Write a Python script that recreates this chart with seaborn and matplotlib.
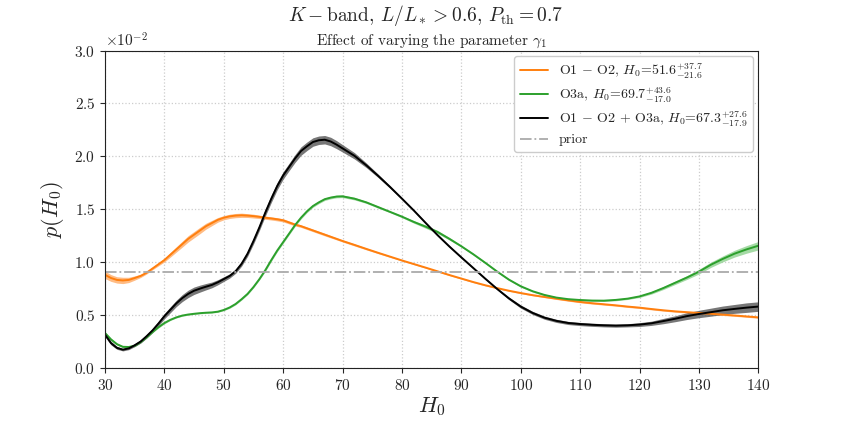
import numpy as np
import pandas as pd
import seaborn as sns
import matplotlib.pyplot as plt
from matplotlib.ticker import ScalarFormatter

sns.set_style("ticks")
plt.rcParams['font.family'] = 'serif'
plt.rcParams['font.serif'] = ['cmr10', 'DejaVu Serif']
plt.rcParams['mathtext.fontset'] = 'cm'
plt.rcParams['axes.formatter.use_mathtext'] = True
plt.rcParams['axes.unicode_minus'] = False

# H0 values where the curves were read: every 1 up to 70, every 2 after
h0 = list(range(30, 71)) + list(range(72, 141, 2))

# p(H0) in units of 1e-2
p_o1o2 = [0.88, 0.85, 0.832, 0.827, 0.832, 0.85, 0.87, 0.90, 0.94, 0.98,
          1.02, 1.07, 1.12, 1.17, 1.22, 1.26, 1.30, 1.34, 1.37, 1.40,
          1.42, 1.433, 1.44, 1.443, 1.44, 1.435, 1.428, 1.42, 1.413, 1.405,
          1.395, 1.375, 1.355, 1.34, 1.32, 1.30, 1.28, 1.26, 1.24, 1.22, 1.20,
          1.163, 1.125, 1.088, 1.052, 1.016, 0.982, 0.948, 0.913, 0.878, 0.845,
          0.812, 0.782, 0.755, 0.73, 0.708, 0.688, 0.671, 0.655, 0.639, 0.624,
          0.612, 0.602, 0.592, 0.58, 0.57, 0.557, 0.545, 0.535, 0.527, 0.52,
          0.512, 0.504, 0.496, 0.487, 0.478]
p_o3a = [0.33, 0.27, 0.225, 0.20, 0.198, 0.21, 0.245, 0.29, 0.34, 0.385,
         0.425, 0.455, 0.478, 0.495, 0.505, 0.512, 0.518, 0.522, 0.525, 0.532,
         0.548, 0.572, 0.605, 0.65, 0.70, 0.765, 0.84, 0.925, 1.02, 1.11,
         1.19, 1.27, 1.35, 1.42, 1.48, 1.53, 1.565, 1.595, 1.61, 1.62, 1.622,
         1.60, 1.565, 1.52, 1.475, 1.43, 1.38, 1.335, 1.285, 1.22, 1.15,
         1.075, 0.995, 0.912, 0.835, 0.772, 0.725, 0.69, 0.665, 0.65, 0.642,
         0.637, 0.636, 0.643, 0.655, 0.676, 0.71, 0.755, 0.805, 0.855, 0.91,
         0.975, 1.03, 1.08, 1.12, 1.155]
p_comb = [0.315, 0.235, 0.19, 0.173, 0.185, 0.215, 0.25, 0.30, 0.355, 0.42,
          0.49, 0.55, 0.61, 0.66, 0.70, 0.73, 0.75, 0.768, 0.785, 0.81,
          0.84, 0.87, 0.915, 0.985, 1.08, 1.20, 1.33, 1.47, 1.60, 1.72,
          1.82, 1.90, 1.98, 2.05, 2.095, 2.135, 2.152, 2.157, 2.14, 2.11, 2.075,
          2.005, 1.915, 1.815, 1.71, 1.60, 1.488, 1.37, 1.255, 1.147, 1.045,
          0.945, 0.845, 0.748, 0.658, 0.58, 0.52, 0.475, 0.445, 0.425, 0.415,
          0.408, 0.403, 0.40, 0.403, 0.41, 0.422, 0.443, 0.465, 0.49, 0.51,
          0.527, 0.545, 0.558, 0.57, 0.58]

# half widths of the spread between the gamma_1 variations
w_o1o2 = [0.035, 0.032, 0.03, 0.03, 0.025, 0.02, 0.015, 0.012, 0.012, 0.015,
          0.018, 0.022, 0.025, 0.028, 0.03, 0.03, 0.03, 0.028, 0.025, 0.022,
          0.02, 0.02, 0.02, 0.02, 0.018, 0.018, 0.016, 0.015, 0.015, 0.015,
          0.015, 0.014, 0.013, 0.012, 0.012, 0.012, 0.012, 0.012, 0.011, 0.01, 0.01,
          0.01, 0.009, 0.008, 0.007] + [0.006] * 13 + [0.008] * 18
w_o3a = [0.012, 0.011, 0.01] + [0.008] * 8 + [0.006] * 10 + [0.008] * 6 + [0.012] * 14 + \
        [0.012, 0.01, 0.01, 0.008, 0.01, 0.012, 0.015, 0.015, 0.012] + [0.008] * 15 + \
        [0.01, 0.012, 0.014, 0.016, 0.018, 0.022, 0.025, 0.028, 0.032, 0.036, 0.04]
w_comb = [0.02, 0.017, 0.014, 0.012, 0.012, 0.013, 0.015, 0.018, 0.02, 0.022,
          0.025, 0.028, 0.03, 0.033, 0.035, 0.035, 0.033, 0.03, 0.027, 0.024,
          0.022, 0.02, 0.02, 0.022, 0.025, 0.028, 0.03, 0.033, 0.035, 0.035,
          0.035, 0.035, 0.037, 0.04, 0.04, 0.04, 0.04, 0.04, 0.04, 0.038, 0.035,
          0.03, 0.022, 0.016, 0.012] + [0.008] * 9 + [0.012] + [0.015] * 10 + \
         [0.018, 0.02, 0.025, 0.028, 0.032, 0.035, 0.038, 0.04, 0.042, 0.045, 0.045]

prior = 0.909
scale = 1e-2

lab_o1o2 = r'O1 $-$ O2, $H_0$=$51.6^{+37.7}_{-21.6}$'
lab_o3a = r'O3a, $H_0$=$69.7^{+43.6}_{-17.0}$'
lab_comb = r'O1 $-$ O2 + O3a, $H_0$=$67.3^{+27.6}_{-17.9}$'

series = {lab_o1o2: (p_o1o2, w_o1o2), lab_o3a: (p_o3a, w_o3a), lab_comb: (p_comb, w_comb)}
colors = {lab_o1o2: '#ff7f0e', lab_o3a: '#2ca02c', lab_comb: 'black'}
bands = {lab_o1o2: '#ffab66', lab_o3a: '#8fd18f', lab_comb: '#555555'}

df = pd.concat([pd.DataFrame({'H0': h0, 'p': np.array(v) * scale, 'w': np.array(w) * scale, 'run': k})
                for k, (v, w) in series.items()])

fig, ax = plt.subplots(figsize=(8.43, 4.21), dpi=100)
fig.subplots_adjust(left=0.1246, right=0.8995, bottom=0.126, top=0.88)

for k, g in df.groupby('run', sort=False):
    ax.fill_between(g.H0, g.p - g.w, g.p + g.w, color=bands[k], alpha=0.8, lw=0)

sns.lineplot(data=df, x='H0', y='p', hue='run', hue_order=list(series), palette=colors,
             lw=1.4, ax=ax)
ax.axhline(prior * scale, color='#aaaaaa', ls='-.', lw=1.3, label='prior')

ax.set_xlim(30, 140)
ax.set_ylim(0, 0.03)
ax.set_xticks(np.arange(30, 141, 10))
ax.set_yticks(np.arange(0, 0.0301, 0.005))
fmt = ScalarFormatter(useMathText=True)
fmt.set_powerlimits((-2, -2))
ax.yaxis.set_major_formatter(fmt)
ax.tick_params(labelsize=11)
ax.yaxis.get_offset_text().set_fontsize(11)
ax.grid(True, ls=':', color='#cccccc', lw=0.9)
for s in ax.spines.values():
    s.set_color('#222222')

ax.set_xlabel(r'$H_0$', fontsize=16, labelpad=2)
ax.set_ylabel(r'$p(H_0)$', fontsize=16, labelpad=6)
ax.set_title(r'Effect of varying the parameter $\gamma_1$', fontsize=11, pad=4)
fig.text(0.505, 0.962, r'$K-$band, $L/L_* > 0.6$, $P_{\rm th}=0.7$', fontsize=14,
         ha='center', va='center')

h, l = ax.get_legend_handles_labels()
leg = ax.legend(h, l, loc='upper right', fontsize=10, framealpha=1, edgecolor='#cccccc',
                handlelength=2.0, labelspacing=0.35, borderaxespad=0.4)

fig.savefig('out.png', dpi=100)
